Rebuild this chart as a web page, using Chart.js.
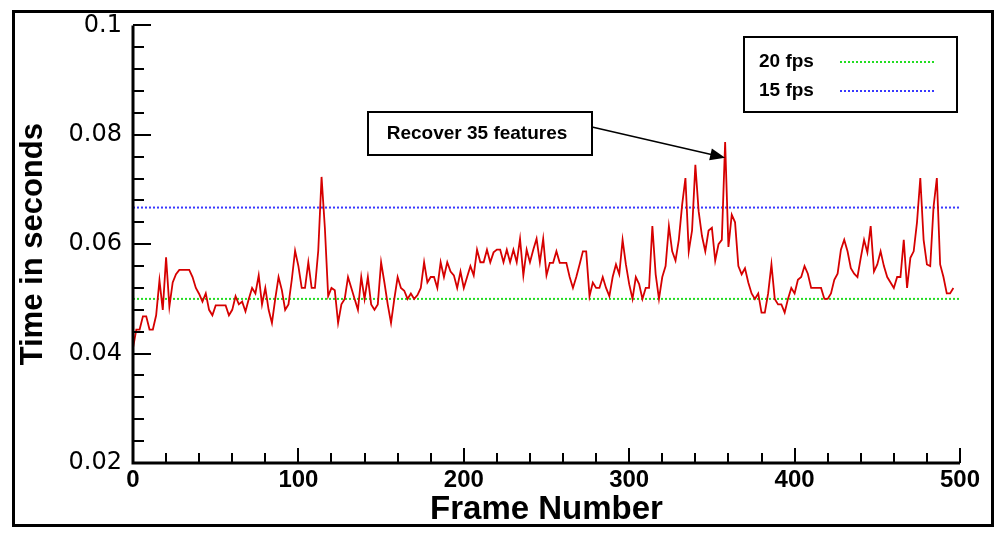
<!DOCTYPE html>
<html lang="en">
<head>
  <meta charset="UTF-8" />
  <title>Time in seconds per frame</title>
  <script src="https://cdn.jsdelivr.net/npm/chart.js"></script>
  <style>
    html, body { margin: 0; padding: 0; background: #fff; }
    #wrap { width: 1000px; height: 541px; }
  </style>
</head>
<body>
  <div id="wrap"><canvas id="timeChart" width="1000" height="541"></canvas></div>

  <script>
    // time per frame, every 2 frames
    const frameStep = 2;
    const times = [
      0.041, 0.0444, 0.0444, 0.0468, 0.0468, 0.0444, 0.0444, 0.047, 0.0534, 0.048,
      0.0576, 0.0486, 0.053, 0.0545, 0.0553, 0.0553, 0.0553, 0.0553, 0.054, 0.052,
      0.0509, 0.0495, 0.051, 0.048, 0.047, 0.0488, 0.0488, 0.0488, 0.0488, 0.047,
      0.048, 0.0505, 0.049, 0.0495, 0.0477, 0.050, 0.052, 0.051, 0.0543, 0.049,
      0.052, 0.048, 0.0456, 0.050, 0.054, 0.0516, 0.048, 0.049, 0.0535, 0.0588,
      0.056, 0.052, 0.052, 0.0567, 0.052, 0.052, 0.0588, 0.0723, 0.063, 0.0505,
      0.052, 0.0516, 0.0456, 0.049, 0.050, 0.054, 0.052, 0.050, 0.048, 0.054,
      0.050, 0.054, 0.049, 0.048, 0.049, 0.0567, 0.053, 0.049, 0.0456, 0.050,
      0.054, 0.052, 0.0515, 0.050, 0.051, 0.050, 0.0507, 0.052, 0.0567, 0.053,
      0.054, 0.054, 0.052, 0.0567, 0.054, 0.0567, 0.055, 0.0543, 0.052, 0.055,
      0.052, 0.054, 0.056, 0.0543, 0.059, 0.0567, 0.0567, 0.059, 0.0567, 0.0585,
      0.059, 0.059, 0.0567, 0.059, 0.0567, 0.059, 0.0567, 0.061, 0.0543, 0.059,
      0.0567, 0.059, 0.061, 0.0567, 0.061, 0.0543, 0.0566, 0.0566, 0.0587, 0.0566,
      0.0566, 0.0566, 0.054, 0.052, 0.054, 0.0563, 0.0587, 0.0587, 0.0505, 0.053,
      0.052, 0.052, 0.054, 0.052, 0.0505, 0.054, 0.0563, 0.0545, 0.0608, 0.0563,
      0.0527, 0.050, 0.054, 0.0527, 0.050, 0.052, 0.052, 0.0633, 0.0545, 0.050,
      0.054, 0.056, 0.0633, 0.0587, 0.057, 0.0608, 0.0672, 0.0721, 0.0587, 0.0625,
      0.0745, 0.066, 0.0615, 0.0587, 0.0625, 0.063, 0.057, 0.060, 0.0608, 0.0787,
      0.0595, 0.0654, 0.064, 0.056, 0.0545, 0.0556, 0.053, 0.051, 0.050, 0.051,
      0.0475, 0.0475, 0.051, 0.0563, 0.050, 0.049, 0.049, 0.0475, 0.050, 0.052,
      0.051, 0.0535, 0.054, 0.056, 0.0546, 0.052, 0.052, 0.052, 0.052, 0.050,
      0.050, 0.051, 0.0535, 0.0546, 0.059, 0.0608, 0.0587, 0.0556, 0.0546, 0.054,
      0.0575, 0.0608, 0.0585, 0.0633, 0.055, 0.0563, 0.0587, 0.056, 0.054, 0.053,
      0.052, 0.054, 0.054, 0.0608, 0.052, 0.0575, 0.0587, 0.064, 0.0721, 0.0608,
      0.0563, 0.056, 0.0668, 0.0721, 0.0563, 0.054, 0.051, 0.051, 0.052
    ];
    const frames = times.map((_, i) => i * frameStep);

    const fps20 = 0.05;
    const fps15 = 0.0667;
    const xRange = [0, 500];
    const yRange = [0.02, 0.1];
    const xTicks = [0, 100, 200, 300, 400, 500];
    const yTicks = [0.02, 0.04, 0.06, 0.08, 0.1];
    const yTickLabels = ["0.02", "0.04", "0.06", "0.08", "0.1"];

    const noteText = "Recover 35 features";
    const noteFrame = 358;
    const noteValue = 0.0758;

    const decor = {
      id: "decor",
      afterDraw(chart) {
        const { ctx, chartArea: a, scales: { x, y } } = chart;
        ctx.save();

        // outer frame
        ctx.strokeStyle = "#000";
        ctx.lineWidth = 3;
        ctx.strokeRect(13.5, 11.5, 979, 514);

        // axis lines
        ctx.beginPath();
        ctx.moveTo(a.left, a.top);
        ctx.lineTo(a.left, a.bottom);
        ctx.lineTo(a.right, a.bottom);
        ctx.stroke();

        // inward ticks
        ctx.lineWidth = 2;
        ctx.beginPath();
        for (let v = xRange[0]; v <= xRange[1]; v += 20) {
          const px = Math.round(x.getPixelForValue(v));
          const len = v % 100 === 0 ? 15 : 10;
          ctx.moveTo(px, a.bottom);
          ctx.lineTo(px, a.bottom - len);
        }
        for (let k = 0; k <= 20; k++) {
          const py = Math.round(y.getPixelForValue(yRange[0] + k * 0.004));
          const len = k % 5 === 0 ? 18 : 11;
          ctx.moveTo(a.left, py);
          ctx.lineTo(a.left + len, py);
        }
        ctx.stroke();

        // legend box
        const ds = chart.data.datasets;
        ctx.lineWidth = 2;
        ctx.strokeRect(744, 37, 213, 75);
        ctx.font = "bold 19px 'Liberation Sans', Arial, sans-serif";
        ctx.fillStyle = "#000";
        ctx.textBaseline = "middle";
        ctx.textAlign = "left";
        [[ds[1], 62], [ds[2], 91]].forEach(([d, ly]) => {
          ctx.fillText(d.label, 759, ly);
          ctx.strokeStyle = d.borderColor;
          ctx.setLineDash([2, 2]);
          ctx.beginPath();
          ctx.moveTo(840, ly);
          ctx.lineTo(934, ly);
          ctx.stroke();
          ctx.setLineDash([]);
        });

        // annotation box + arrow
        ctx.strokeStyle = "#000";
        ctx.lineWidth = 2;
        ctx.fillStyle = "#fff";
        ctx.fillRect(368, 112, 224, 43);
        ctx.strokeRect(368, 112, 224, 43);
        ctx.fillStyle = "#000";
        ctx.textAlign = "center";
        ctx.fillText(noteText, 477, 134);

        const tx = x.getPixelForValue(noteFrame);
        const ty = y.getPixelForValue(noteValue);
        const sx = 592, sy = 127;
        const ang = Math.atan2(ty - sy, tx - sx);
        ctx.lineWidth = 1.5;
        ctx.beginPath();
        ctx.moveTo(sx, sy);
        ctx.lineTo(tx - 12 * Math.cos(ang), ty - 12 * Math.sin(ang));
        ctx.stroke();
        ctx.beginPath();
        ctx.moveTo(tx, ty);
        ctx.lineTo(tx - 15 * Math.cos(ang) + 6 * Math.sin(ang), ty - 15 * Math.sin(ang) - 6 * Math.cos(ang));
        ctx.lineTo(tx - 15 * Math.cos(ang) - 6 * Math.sin(ang), ty - 15 * Math.sin(ang) + 6 * Math.cos(ang));
        ctx.closePath();
        ctx.fill();

        ctx.restore();
      }
    };

    const ctx = document.getElementById("timeChart").getContext("2d");
    new Chart(ctx, {
      type: "line",
      data: {
        datasets: [
          {
            label: "Time per frame",
            data: frames.map((f, i) => ({ x: f, y: times[i] })),
            borderColor: "rgb(214, 0, 0)",
            borderWidth: 1.8,
            pointRadius: 0,
            tension: 0,
            fill: false,
            order: 0
          },
          {
            label: "20 fps",
            data: [{ x: xRange[0], y: fps20 }, { x: xRange[1], y: fps20 }],
            borderColor: "#22dd22",
            borderWidth: 2,
            borderDash: [2, 2],
            pointRadius: 0,
            fill: false,
            order: 1
          },
          {
            label: "15 fps",
            data: [{ x: xRange[0], y: fps15 }, { x: xRange[1], y: fps15 }],
            borderColor: "#3838ff",
            borderWidth: 2,
            borderDash: [2, 2],
            pointRadius: 0,
            fill: false,
            order: 1
          }
        ]
      },
      options: {
        responsive: false,
        animation: false,
        layout: { padding: { left: 0, right: 40, top: 23, bottom: 0 } },
        plugins: {
          legend: { display: false },
          tooltip: { enabled: false }
        },
        scales: {
          x: {
            type: "linear",
            min: xRange[0],
            max: xRange[1],
            afterBuildTicks: (s) => { s.ticks = xTicks.map(v => ({ value: v })); },
            afterFit: (s) => { s.height = 78; },
            grid: { display: false, drawTicks: false },
            border: { display: false },
            ticks: {
              color: "#000",
              padding: 3,
              maxRotation: 0,
              font: { family: "'Liberation Sans', Arial, sans-serif", size: 24, weight: "bold" }
            },
            title: {
              display: true,
              text: "Frame Number",
              color: "#000",
              padding: { top: 0, bottom: 11 },
              font: { family: "'Liberation Sans', Arial, sans-serif", size: 33, weight: "bold" }
            }
          },
          y: {
            min: yRange[0],
            max: yRange[1],
            afterBuildTicks: (s) => { s.ticks = yTicks.map(v => ({ value: v })); },
            afterFit: (s) => { s.width = 133; },
            grid: { display: false, drawTicks: false },
            border: { display: false },
            ticks: {
              color: "#000",
              padding: 11,
              font: { family: "'DejaVu Sans', sans-serif", size: 24 },
              callback: (v) => yTickLabels[yTicks.indexOf(v)]
            },
            title: {
              display: true,
              text: "Time in seconds",
              color: "#000",
              padding: { top: 15, bottom: 0 },
              font: { family: "'Liberation Sans', Arial, sans-serif", size: 31, weight: "bold" }
            }
          }
        }
      },
      plugins: [decor]
    });
  </script>
</body>
</html>
